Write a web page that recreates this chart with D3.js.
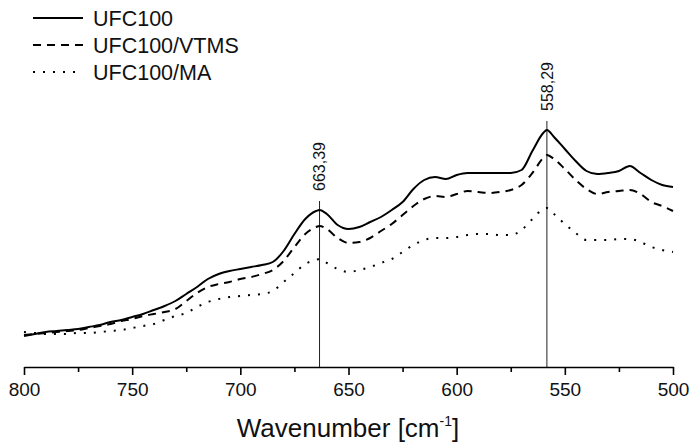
<!DOCTYPE html>
<html>
<head>
<meta charset="utf-8">
<script src="https://cdn.jsdelivr.net/npm/d3@7"></script>
<style>
  body { margin: 0; background: #fff; }
  svg { display: block; font-family: "Liberation Sans", Arial, sans-serif; }
</style>
</head>
<body>
<div id="chart"></div>
<script>
// wavenumber grid [cm-1]
const wavenumbers = [
  800, 795, 790, 785, 780, 775, 770, 765, 760, 755, 750, 745, 740, 735, 730, 725,
  720, 715, 710, 705, 700, 695, 690, 685, 680, 675, 670, 665, 663.39, 660, 655,
  650, 645, 640, 635, 630, 625, 620, 615, 610, 605, 600, 595, 590, 585, 580, 575,
  570, 565, 560, 558.29, 555, 550, 545, 540, 535, 530, 525, 520, 515, 510, 505, 500
];

const ufc100 = [
  0.031, 0.033, 0.035, 0.036, 0.037, 0.038, 0.040, 0.042, 0.045, 0.047, 0.050, 0.053, 0.057, 0.061, 0.066, 0.073,
  0.080, 0.088, 0.093, 0.096, 0.098, 0.100, 0.102, 0.105, 0.116, 0.133, 0.148, 0.156, 0.157, 0.153, 0.142,
  0.138, 0.140, 0.145, 0.150, 0.157, 0.165, 0.178, 0.187, 0.190, 0.188, 0.192, 0.194, 0.194, 0.194, 0.194, 0.194,
  0.197, 0.216, 0.234, 0.237, 0.230, 0.218, 0.206, 0.196, 0.193, 0.194, 0.196, 0.201, 0.194, 0.187, 0.182, 0.180
];

const ufc100Vtms = [
  0.032, 0.033, 0.034, 0.035, 0.036, 0.037, 0.039, 0.041, 0.043, 0.046, 0.048, 0.051, 0.053, 0.055, 0.058, 0.066,
  0.074, 0.080, 0.083, 0.085, 0.088, 0.090, 0.093, 0.097, 0.106, 0.120, 0.133, 0.140, 0.141, 0.138, 0.129,
  0.124, 0.125, 0.129, 0.136, 0.143, 0.152, 0.161, 0.168, 0.171, 0.170, 0.173, 0.176, 0.175, 0.174, 0.175, 0.177,
  0.182, 0.194, 0.209, 0.212, 0.208, 0.198, 0.187, 0.178, 0.173, 0.175, 0.176, 0.177, 0.173, 0.165, 0.161, 0.156
];

const ufc100Ma = [
  0.035, 0.034, 0.033, 0.033, 0.033, 0.034, 0.034, 0.035, 0.036, 0.037, 0.039, 0.041, 0.043, 0.047, 0.051, 0.054,
  0.060, 0.065, 0.068, 0.070, 0.071, 0.072, 0.073, 0.076, 0.085, 0.094, 0.103, 0.107, 0.108, 0.104, 0.098,
  0.095, 0.097, 0.100, 0.104, 0.108, 0.115, 0.122, 0.127, 0.129, 0.129, 0.130, 0.132, 0.133, 0.133, 0.132, 0.132,
  0.137, 0.148, 0.158, 0.159, 0.153, 0.143, 0.134, 0.127, 0.127, 0.127, 0.128, 0.128, 0.125, 0.120, 0.117, 0.115
];

const seriesNames = ["UFC100", "UFC100/VTMS", "UFC100/MA"];
const peaks = [663.39, 558.29];
const majorTicks = [800, 750, 700, 650, 600, 550, 500];
const minorTicks = [775, 725, 675, 625, 575, 525];

const width = 690, height = 443;

const svg = d3.select("#chart").append("svg")
  .attr("width", width)
  .attr("height", height);

const x = d3.scaleLinear().domain([800, 500]).range([24, 673]);
const y = d3.scaleLinear().domain([0, 0.3]).range([367, 67]);

const styles = [
  { dash: null },
  { dash: "8,6" },
  { dash: "2,8" }
];

const series = [ufc100, ufc100Vtms, ufc100Ma].map((vals, i) => ({
  name: seriesNames[i],
  style: styles[i],
  points: wavenumbers.map((w, j) => ({ w, v: vals[j] }))
}));

// peak marker lines + labels
const peakG = svg.append("g").attr("class", "peaks");
peaks.forEach((p) => {
  const idx = wavenumbers.indexOf(p);
  const top = y(ufc100[idx]) - 9;
  peakG.append("line")
    .attr("x1", x(p)).attr("x2", x(p))
    .attr("y1", top).attr("y2", y(0))
    .attr("stroke", "#222").attr("stroke-width", 1);
  peakG.append("text")
    .attr("transform", `translate(${x(p)},${top - 10}) rotate(-90)`)
    .attr("dy", "0.35em")
    .attr("font-size", "16px")
    .attr("fill", "#111")
    .text(d3.format(".2f")(p).replace(".", ","));
});

// curves
const line = d3.line()
  .x((d) => x(d.w))
  .y((d) => y(d.v))
  .curve(d3.curveMonotoneX);

svg.append("g").attr("class", "curves")
  .selectAll("path")
  .data(series)
  .join("path")
  .attr("d", (d) => line(d.points))
  .attr("fill", "none")
  .attr("stroke", "#000")
  .attr("stroke-width", 2)
  .attr("stroke-dasharray", (d) => d.style.dash);

// x axis, major + minor ticks
const axisG = svg.append("g")
  .attr("transform", `translate(0,${y(0)})`);

axisG.call(
  d3.axisBottom(x).tickValues(majorTicks).tickSize(8).tickSizeOuter(0)
    .tickPadding(8).tickFormat(d3.format("d"))
);
axisG.append("g").call(
  d3.axisBottom(x).tickValues(minorTicks).tickSize(5).tickSizeOuter(0).tickFormat("")
).select(".domain").remove();

axisG.selectAll(".domain").attr("stroke", "#000").attr("stroke-width", 1.6);
axisG.selectAll(".tick line").attr("stroke", "#000").attr("stroke-width", 1.6);
axisG.selectAll(".tick text")
  .attr("font-size", "19px")
  .attr("font-family", "Liberation Sans, Arial, sans-serif")
  .attr("fill", "#111");

// axis title
const title = svg.append("text")
  .attr("x", 348)
  .attr("y", 437)
  .attr("text-anchor", "middle")
  .attr("font-size", "26px")
  .attr("fill", "#111");
title.append("tspan").text("Wavenumber [cm");
title.append("tspan").attr("font-size", "14px").attr("dy", "-11").text("-1");
title.append("tspan").attr("dy", "11").text("]");

// legend
const legend = svg.append("g").attr("class", "legend");
series.forEach((s, i) => {
  const base = 26 + i * 27;
  legend.append("line")
    .attr("x1", 33).attr("x2", 83)
    .attr("y1", base - 8).attr("y2", base - 8)
    .attr("stroke", "#000")
    .attr("stroke-width", 2)
    .attr("stroke-dasharray", s.style.dash);
  legend.append("text")
    .attr("x", 93)
    .attr("y", base)
    .attr("font-size", "21.5px")
    .attr("fill", "#111")
    .text(s.name);
});
</script>
</body>
</html>
